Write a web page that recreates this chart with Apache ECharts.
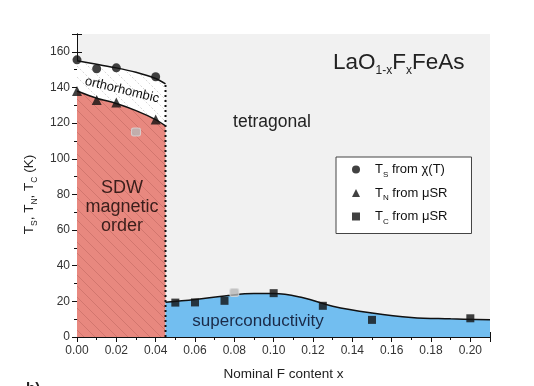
<!DOCTYPE html>
<html><head><meta charset="utf-8">
<script src="https://cdn.jsdelivr.net/npm/echarts@6/dist/echarts.min.js"></script>
<style>html,body{margin:0;padding:0;background:#fff}#c{width:534px;height:386px}</style>
</head><body><div id="c"></div>
<script>
// Measured points
const tsX = [0.00, 0.01, 0.02, 0.04];
const tsY = [155.5, 150.5, 151, 146];
const tnX = [0.00, 0.01, 0.02, 0.04];
const tnY = [138, 133, 131.5, 122];
const tcX = [0.05, 0.06, 0.075, 0.10, 0.125, 0.15, 0.20];
const tcY = [19.3, 19.4, 20.3, 24.6, 17.5, 9.6, 10.5];
const grayX = [0.03, 0.08];
const grayY = [115, 25];
// Guide curves (phase boundaries)
const tsCurveX = [0.00, 0.01, 0.02, 0.03, 0.04, 0.045];
const tsCurveY = [155, 153, 151, 148.5, 145, 142];
const tnCurveX = [0.00, 0.01, 0.02, 0.03, 0.04, 0.045];
const tnCurveY = [138, 134, 131, 127, 122, 118.5];
const scCurveX = [0.045, 0.06, 0.075, 0.09, 0.10, 0.115, 0.13, 0.15, 0.17, 0.19, 0.21];
const scCurveY = [19.5, 21, 23, 24.4, 24.4, 22, 17.3, 13.5, 11, 10.2, 9.7];
const boundaryX = [0.045, 0.045];
const boundaryY = [0, 142];
const xTicks = [0, 0.21, 0.02];
const yTicks = [0, 170, 20];

const zip = (xs, ys) => xs.map((x, i) => [x, ys[i]]);
function hatch(bg, line, size, dash) {
  const c = document.createElement('canvas');
  c.width = size; c.height = size;
  const g = c.getContext('2d');
  g.fillStyle = bg; g.fillRect(0, 0, size, size);
  g.strokeStyle = line; g.lineWidth = 1;
  if (dash) g.setLineDash(dash);
  for (const k of [-size, 0, size]) {
    g.beginPath(); g.moveTo(k, 0); g.lineTo(k + size, size); g.stroke();
  }
  return c;
}
const FONT = "'Liberation Sans', Arial, sans-serif";
const chart = echarts.init(document.getElementById('c'), null, {renderer: 'canvas'});
const axisCommon = {
  min: xTicks[0], max: xTicks[1], interval: xTicks[2],
  axisLine: {show: true, lineStyle: {color: '#111', width: 1}},
  axisTick: {show: true, inside: true, length: 5, lineStyle: {color: '#111'}},
  minorTick: {show: true, splitNumber: 2, length: 3, lineStyle: {color: '#111'}},
  splitLine: {show: false}
};
const yCommon = {
  type: 'value', min: yTicks[0], max: yTicks[1], interval: yTicks[2],
  axisLine: {show: true, lineStyle: {color: '#111', width: 1}},
  axisTick: {show: true, inside: true, length: 5, lineStyle: {color: '#111'}},
  minorTick: {show: true, splitNumber: 2, length: 3, lineStyle: {color: '#111'}},
  splitLine: {show: false}
};
const legendRich = {
  a: {fontSize: 13, lineHeight: 18, verticalAlign: 'middle', color: '#111', fontFamily: FONT},
  p: {fontSize: 13, lineHeight: 18, verticalAlign: 'middle', color: '#111', fontFamily: FONT, padding: [0, 0, 0, 10]},
  s: {fontSize: 8, lineHeight: 11, verticalAlign: 'bottom', color: '#111', fontFamily: FONT}
};
const legendText = {
  Ts: '{p|T}{s|S}{a| from χ(T)}',
  Tn: '{p|T}{s|N}{a| from μSR}',
  Tc: '{p|T}{s|C}{a| from μSR}'
};
chart.setOption({
  backgroundColor: '#fff',
  animation: false,
  grid: {left: 77, right: 44, top: 34, bottom: 48, show: true, backgroundColor: '#f1f1f1', borderWidth: 0},
  xAxis: [
    Object.assign({type: 'value', position: 'bottom',
      name: 'Nominal F content x', nameLocation: 'middle', nameGap: 30,
      nameTextStyle: {fontSize: 13.5, color: '#222', fontFamily: FONT},
      axisLabel: {fontSize: 12, color: '#333', fontFamily: FONT, margin: 8,
        formatter: v => Math.abs(v * 50 - Math.round(v * 50)) < 1e-6 ? v.toFixed(2) : ''}}, axisCommon),
    Object.assign({type: 'value', position: 'top', axisLabel: {show: false}}, axisCommon)
  ],
  yAxis: [
    Object.assign({position: 'left',
      name: '{a|T}{s|S}{a|, T}{s|N}{a|, T}{s|C}{a| (K)}', nameLocation: 'middle', nameGap: 24, nameRotate: 90,
      nameTextStyle: {padding: [0, 18, 0, 0], rich: {
        a: {fontSize: 13.5, lineHeight: 20, verticalAlign: 'middle', color: '#222', fontFamily: FONT},
        s: {fontSize: 8.5, lineHeight: 12, verticalAlign: 'bottom', color: '#222', fontFamily: FONT}}},
      axisLabel: {fontSize: 12, color: '#333', fontFamily: FONT, margin: 7,
        formatter: v => (Math.round(v) % 20 === 0 ? String(Math.round(v)) : '')}}, yCommon),
    Object.assign({position: 'right', axisLabel: {show: false}}, yCommon)
  ],
  legend: {
    orient: 'vertical', left: 336, top: 157, padding: [6, 24, 8, 16], itemGap: 8,
    itemWidth: 8, itemHeight: 8, borderColor: '#444', borderWidth: 1, backgroundColor: '#fff',
    data: [{name: 'Ts', icon: 'circle'}, {name: 'Tn', icon: 'triangle'}, {name: 'Tc', icon: 'rect'}],
    formatter: n => legendText[n],
    textStyle: {rich: legendRich},
    selectedMode: false
  },
  series: [
    {type: 'line', name: 'tsCurve', data: zip(tsCurveX, tsCurveY), smooth: 0.3, symbol: 'none',
      lineStyle: {color: '#111', width: 1.5},
      areaStyle: {origin: 'start', opacity: 1, color: {image: hatch('#ffffff', '#d6d6d6', 11, [2, 2]), repeat: 'repeat'}}},
    {type: 'line', name: 'tnCurve', data: zip(tnCurveX, tnCurveY), smooth: 0.3, symbol: 'none',
      lineStyle: {color: '#111', width: 1.5},
      areaStyle: {origin: 'start', opacity: 1, color: {image: hatch('#e8887f', '#d2766e', 11), repeat: 'repeat'}}},
    {type: 'line', name: 'boundary', data: zip(boundaryX, boundaryY), symbol: 'none',
      lineStyle: {color: '#111', width: 2, type: [2, 3]}},
    {type: 'line', name: 'scCurve', data: zip(scCurveX, scCurveY), smooth: 0.4, symbol: 'none',
      lineStyle: {color: '#111', width: 1.5},
      areaStyle: {origin: 'start', opacity: 1, color: '#72bef0'}},
    {type: 'scatter', name: 'gray', z: 6, clip: false, data: zip(grayX, grayY), symbolSize: [9, 8], symbol: 'roundRect',
      itemStyle: {color: '#b8b8b8', borderColor: '#d8d8d8', borderWidth: 1}},
    {type: 'scatter', name: 'Ts', z: 6, clip: false, data: zip(tsX, tsY), symbol: 'circle', symbolSize: 9, itemStyle: {color: '#111'}},
    {type: 'scatter', name: 'Tn', z: 6, clip: false, data: zip(tnX, tnY), symbol: 'triangle', symbolSize: 10, itemStyle: {color: '#111'}},
    {type: 'scatter', name: 'Tc', z: 6, clip: false, data: zip(tcX, tcY), symbol: 'rect', symbolSize: 8, itemStyle: {color: '#111'}}
  ],
  graphic: [
    {type: 'text', x: 122, y: 90, rotation: -0.24,
      style: {text: 'orthorhombic', fontSize: 13, fill: '#111', fontFamily: FONT, textAlign: 'center', textVerticalAlign: 'middle'}, z: 100},
    {type: 'text', x: 272, y: 122,
      style: {text: 'tetragonal', fontSize: 17.5, fill: '#222', fontFamily: FONT, textAlign: 'center', textVerticalAlign: 'middle'}, z: 100},
    {type: 'text', x: 122, y: 207,
      style: {text: 'SDW\nmagnetic\norder', fontSize: 18, lineHeight: 19, fill: '#3a1e1b', fontFamily: FONT, textAlign: 'center', textVerticalAlign: 'middle'}, z: 100},
    {type: 'text', x: 258, y: 321,
      style: {text: 'superconductivity', fontSize: 17, fill: '#1a2a48', fontFamily: FONT, textAlign: 'center', textVerticalAlign: 'middle'}, z: 100},
    {type: 'text', x: 333, y: 63,
      style: {text: '{a|LaO}{s|1-x}{a|F}{s|x}{a|FeAs}', fontFamily: FONT, textAlign: 'left', textVerticalAlign: 'middle',
        rich: {a: {fontSize: 22.5, lineHeight: 28, verticalAlign: 'middle', fill: '#222', fontFamily: FONT},
               s: {fontSize: 12, lineHeight: 18, verticalAlign: 'bottom', fill: '#222', fontFamily: FONT}}}, z: 100},
    {type: 'text', x: 26, y: 381,
      style: {text: 'b)', fontSize: 15, fontWeight: 'bold', fill: '#222', fontFamily: FONT}, z: 100}
  ]
});
</script></body></html>
